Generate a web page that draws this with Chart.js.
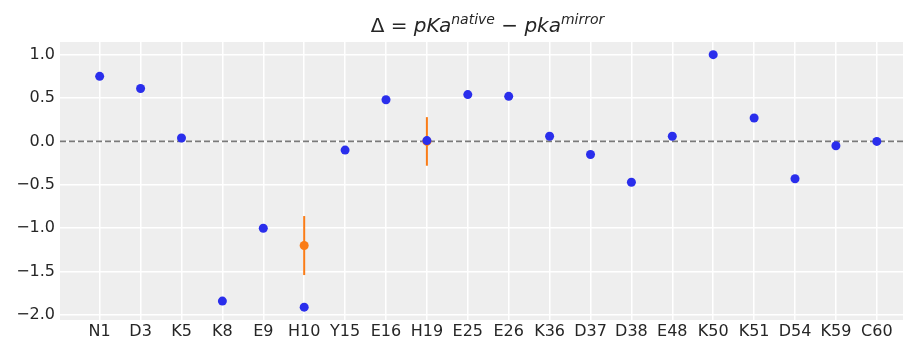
<!DOCTYPE html>
<html>
<head>
<meta charset="utf-8">
<script src="https://cdn.jsdelivr.net/npm/chart.js@4"></script>
<style>
  html, body { margin: 0; padding: 0; background: #fff; }
  #wrap { position: relative; width: 903px; height: 342px; }
  #title {
    position: absolute; left: 66px; width: 843px; top: 13px;
    text-align: center; font-family: "DejaVu Sans", sans-serif;
    font-size: 20px; color: #262626; line-height: 24px;
  }
  #title i { font-style: italic; }
  #title sup { font-size: 14px; vertical-align: 8px; line-height: 0; }
  canvas { position: absolute; left: 0; top: 0; }
</style>
</head>
<body>
<div id="wrap">
  <canvas id="chart" width="903" height="342"></canvas>
  <div id="title">&Delta; = <i>pKa<sup>native</sup></i> &minus; <i>pka<sup>mirror</sup></i></div>
</div>
<script>
// residues on the x axis
const residues = ["N1", "D3", "K5", "K8", "E9", "H10", "Y15", "E16", "H19", "E25",
  "E26", "K36", "D37", "D38", "E48", "K50", "K51", "D54", "K59", "C60"];

// delta pKa per residue (blue)
const deltaVals = [0.75, 0.61, 0.04, -1.84, -1.00, -1.91, -0.10, 0.48, 0.01, 0.54,
  0.52, 0.06, -0.15, -0.47, 0.06, 1.00, 0.27, -0.43, -0.05, 0.00];

// experimental reference (orange) with error
const refIdx = [5, 8];
const refVals = [-1.20, 0.00];
const refErr = [0.34, 0.28];

const yTicks = [1.0, 0.5, 0.0, -0.5, -1.0, -1.5, -2.0];
const xMin = -0.97, xMax = 19.64;

const blue = "#2a2eec";
const orange = "#fa7c17";

const datasets = [];

datasets.push({
  label: "zero",
  type: "line",
  data: [{ x: xMin, y: 0 }, { x: xMax, y: 0 }],
  borderColor: "#7a7a7a",
  borderWidth: 1.8,
  borderDash: [6, 3],
  pointRadius: 0,
  order: 4
});

refIdx.forEach((xi, i) => {
  datasets.push({
    label: "err" + i,
    type: "line",
    data: [{ x: xi, y: refVals[i] - refErr[i] }, { x: xi, y: refVals[i] + refErr[i] }],
    borderColor: orange,
    borderWidth: 2,
    pointRadius: 0,
    order: 3
  });
});

datasets.push({
  label: "ref",
  data: refIdx.map((xi, i) => ({ x: xi, y: refVals[i] })),
  backgroundColor: orange,
  borderWidth: 0,
  pointRadius: 4.5,
  order: 2
});

datasets.push({
  label: "delta",
  data: deltaVals.map((v, i) => ({ x: i, y: v })),
  backgroundColor: blue,
  borderWidth: 0,
  pointRadius: 4.5,
  order: 1
});

// grey plot background
const bgPlugin = {
  id: "bg",
  beforeDraw(chart) {
    const a = chart.chartArea;
    const c = chart.ctx;
    c.save();
    c.fillStyle = "#eeeeee";
    c.fillRect(a.left, a.top, a.right - a.left, a.bottom - a.top);
    c.restore();
  }
};

new Chart(document.getElementById("chart"), {
  type: "scatter",
  data: { datasets },
  plugins: [bgPlugin],
  options: {
    responsive: false,
    animation: false,
    layout: { autoPadding: false, padding: { top: 42, right: 0, bottom: 0, left: 0 } },
    plugins: { legend: { display: false }, tooltip: { enabled: false } },
    scales: {
      x: {
        type: "linear",
        min: xMin,
        max: xMax,
        afterBuildTicks: axis => { axis.ticks = residues.map((_, i) => ({ value: i })); },
        afterFit: axis => {
          axis.height = 22;
          axis.paddingLeft = 0;
          axis.paddingRight = 0;
        },
        ticks: {
          autoSkip: false,
          maxRotation: 0,
          padding: 2,
          color: "#262626",
          font: { family: "DejaVu Sans", size: 16 },
          callback: v => residues[v]
        },
        grid: { color: "#ffffff", lineWidth: 1.5, drawTicks: false },
        border: { display: false }
      },
      y: {
        min: -2.058,
        max: 1.146,
        afterBuildTicks: axis => { axis.ticks = yTicks.map(v => ({ value: v })); },
        afterFit: axis => {
          axis.width = 60;
          axis.paddingTop = 0;
          axis.paddingBottom = 0;
        },
        ticks: {
          padding: 5,
          color: "#262626",
          font: { family: "DejaVu Sans", size: 16 },
          callback: v => (v < 0 ? "\u2212" + Math.abs(v).toFixed(1) : v.toFixed(1))
        },
        grid: { color: "#ffffff", lineWidth: 1.5, drawTicks: false },
        border: { display: false }
      }
    }
  }
});
</script>
</body>
</html>
